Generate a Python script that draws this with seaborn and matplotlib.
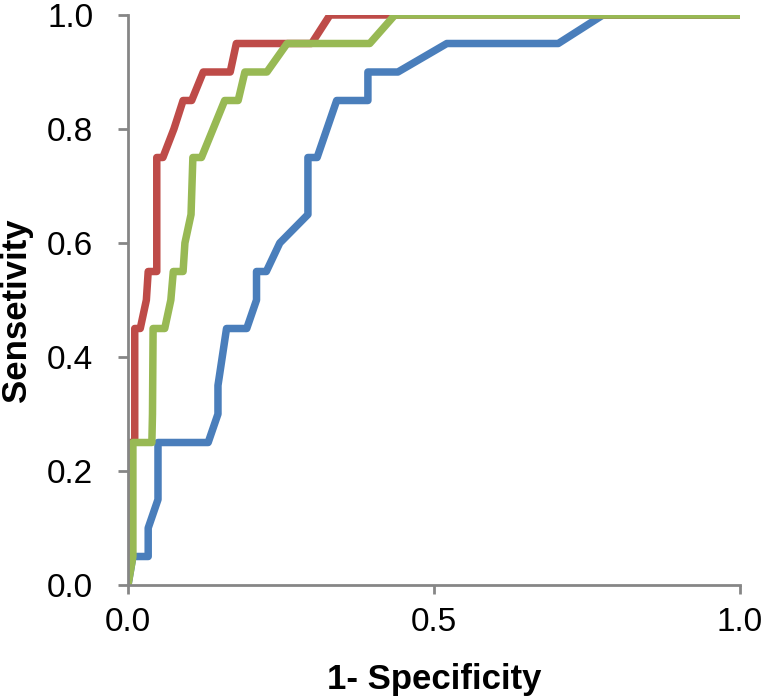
import matplotlib
matplotlib.use("Agg")
import matplotlib.pyplot as plt
import seaborn as sns
import pandas as pd

# ROC curve points
blue_fpr = [0.0, 0.008, 0.033, 0.033, 0.049, 0.049, 0.131, 0.147, 0.147, 0.161, 0.194, 0.21, 0.21,
            0.226, 0.248, 0.294, 0.294, 0.309, 0.341, 0.392, 0.392, 0.441, 0.521, 0.703, 0.776, 1.0]
blue_tpr = [0.0, 0.05, 0.05, 0.10, 0.15, 0.25, 0.25, 0.30, 0.35, 0.45, 0.45, 0.50, 0.55,
            0.55, 0.60, 0.65, 0.75, 0.75, 0.85, 0.85, 0.90, 0.90, 0.95, 0.95, 1.0, 1.0]

red_fpr = [0.0, 0.003, 0.003, 0.011, 0.011, 0.02, 0.03, 0.033, 0.047, 0.047, 0.057, 0.075,
           0.09, 0.104, 0.123, 0.167, 0.177, 0.30, 0.33, 1.0]
red_tpr = [0.0, 0.05, 0.25, 0.25, 0.45, 0.45, 0.50, 0.55, 0.55, 0.75, 0.75, 0.80,
           0.85, 0.85, 0.90, 0.90, 0.95, 0.95, 1.0, 1.0]

green_fpr = [0.0, 0.008, 0.008, 0.039, 0.040, 0.041, 0.06, 0.07, 0.074, 0.09, 0.093, 0.103, 0.106,
             0.12, 0.158, 0.18, 0.191, 0.227, 0.26, 0.395, 0.436, 1.0]
green_tpr = [0.0, 0.05, 0.25, 0.25, 0.30, 0.45, 0.45, 0.50, 0.55, 0.55, 0.60, 0.65, 0.75,
             0.75, 0.85, 0.85, 0.90, 0.90, 0.95, 0.95, 1.0, 1.0]

series_names = ["Blue", "Red", "Green"]
series_colors = ["#4A7EBB", "#BE4B48", "#98B954"]

x_ticks = [0.0, 0.5, 1.0]
x_tick_labels = ["0.0", "0.5", "1.0"]
y_ticks = [0.0, 0.2, 0.4, 0.6, 0.8, 1.0]
y_tick_labels = ["0.0", "0.2", "0.4", "0.6", "0.8", "1.0"]

frames = []
for name, fx, ty in zip(series_names, [blue_fpr, red_fpr, green_fpr], [blue_tpr, red_tpr, green_tpr]):
    frames.append(pd.DataFrame({"fpr": fx, "tpr": ty, "model": name}))
df = pd.concat(frames, ignore_index=True)

sns.set_style("white")
plt.rcParams["font.family"] = ["Liberation Sans", "DejaVu Sans"]
plt.rcParams["text.color"] = "black"
plt.rcParams["axes.labelcolor"] = "black"
plt.rcParams["xtick.labelcolor"] = "black"
plt.rcParams["ytick.labelcolor"] = "black"

fig = plt.figure(figsize=(7.63, 7.00), dpi=100)
ax = fig.add_axes([128 / 763, 115 / 700, (740 - 128) / 763, (585 - 15) / 700])

sns.lineplot(data=df, x="fpr", y="tpr", hue="model", hue_order=series_names,
             palette=dict(zip(series_names, series_colors)), sort=False, estimator=None,
             units="model", linewidth=5.4, legend=False, ax=ax)

ax.set_xlim(0, 1)
ax.set_ylim(0, 1)
ax.set_xticks(x_ticks)
ax.set_xticklabels(x_tick_labels)
ax.set_yticks(y_ticks)
ax.set_yticklabels(y_tick_labels)

for s in ["top", "right"]:
    ax.spines[s].set_visible(False)
for s in ["left", "bottom"]:
    ax.spines[s].set_color("#868686")
    ax.spines[s].set_linewidth(2.0)

ax.tick_params(axis="x", direction="out", length=6.5, width=2.0, color="#868686",
               labelsize=24, pad=9, bottom=True, labelcolor="black")
ax.tick_params(axis="y", direction="out", length=7, width=2.0, color="#868686",
               labelsize=24, pad=18, left=True, labelcolor="black")

ax.set_xlabel("1- Specificity", fontsize=25, fontweight="bold", labelpad=18, color="black")
ax.set_ylabel("Sensetivity", fontsize=25, fontweight="bold", color="black")
ax.yaxis.set_label_coords(-0.155, 0.482)

fig.savefig("out.png", dpi=100)
